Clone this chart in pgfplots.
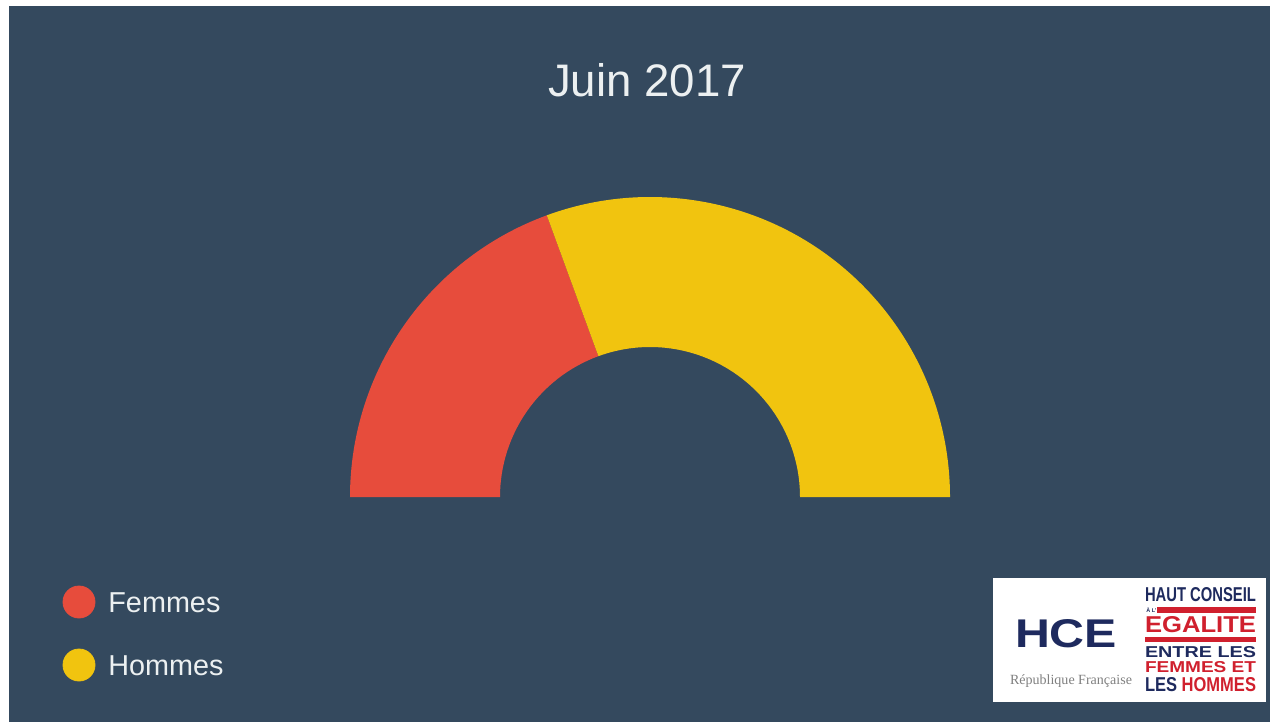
\documentclass[border=0pt]{standalone}
\usepackage{fontspec}
\setmainfont{Liberation Sans}
\newfontfamily\serifl{Liberation Serif}
\usepackage{graphicx}
\usepackage{pgfplots}
\pgfplotsset{compat=1.18}
\definecolor{bg}{HTML}{34495E}
\definecolor{fem}{HTML}{E74C3C}
\definecolor{hom}{HTML}{F1C40F}
\definecolor{txt}{HTML}{ECF0F1}
\definecolor{navy}{HTML}{1E2A5E}
\definecolor{lred}{HTML}{D0202E}
% seats, June 2017
\def\Femmes{224}
\def\Hommes{353}
\pgfmathsetmacro{\ang}{180-180*(\Femmes/(\Femmes+\Hommes))}
\begin{document}
\begin{tikzpicture}
\begin{axis}[width=636pt,height=362pt,scale only axis,
  xmin=0,xmax=1272,ymin=0,ymax=724,hide axis,clip=false]
\fill[white] (axis cs:0,0) rectangle (axis cs:1272,724);
\fill[bg] (axis cs:9,2) rectangle (axis cs:1270,718);
% half donut
\fill[fem] (axis cs:650,227) ++(180:150pt) arc[start angle=180,end angle=\ang,radius=150pt]
  -- ++(\ang+180:75pt) arc[start angle=\ang,end angle=180,radius=75pt] -- cycle;
\fill[hom] (axis cs:650,227) ++(\ang:150pt) arc[start angle=\ang,end angle=0,radius=150pt]
  -- ++(180:75pt) arc[start angle=0,end angle=\ang,radius=75pt] -- cycle;
% title
\node[anchor=base,text=txt,font=\fontsize{22.8pt}{26pt}\selectfont] at (axis cs:647,627) {Juin 2017};
% legend
\addplot[only marks,mark=*,mark size=8pt,color=fem] coordinates {(79,122)};
\addplot[only marks,mark=*,mark size=8pt,color=hom] coordinates {(79,59)};
\node[anchor=base west,inner sep=0pt,text=txt,font=\fontsize{14.4pt}{17pt}\selectfont] at (axis cs:108,112) {Femmes};
\node[anchor=base west,inner sep=0pt,text=txt,font=\fontsize{14.4pt}{17pt}\selectfont] at (axis cs:108,49) {Hommes};
% logo
\fill[white] (axis cs:993,22) rectangle (axis cs:1266,146);
\node[inner sep=0pt,text=navy] at (axis cs:1066,90) {\resizebox{51pt}{14pt}{\bfseries HCE}};
\node[inner sep=0pt,text=gray] at (axis cs:1071,43) {\resizebox{61pt}{!}{\serifl République Française}};
\node[inner sep=0pt,text=navy] at (axis cs:1200.5,129) {\resizebox{55.5pt}{7pt}{\bfseries HAUT CONSEIL}};
\node[inner sep=0pt,text=navy,anchor=west] at (axis cs:1146,114) {\resizebox{5pt}{!}{\bfseries À L'}};
\fill[lred] (axis cs:1157,111) rectangle (axis cs:1256,117);
\node[inner sep=0pt,text=lred] at (axis cs:1200.5,99) {\resizebox{55.5pt}{8pt}{\bfseries EGALITE}};
\fill[lred] (axis cs:1145,82) rectangle (axis cs:1256,87);
\node[inner sep=0pt,text=navy] at (axis cs:1200.5,71.5) {\resizebox{55.5pt}{5.5pt}{\bfseries ENTRE LES}};
\node[inner sep=0pt,text=lred] at (axis cs:1200.5,56.5) {\resizebox{55.5pt}{5.5pt}{\bfseries FEMMES ET}};
\node[inner sep=0pt] at (axis cs:1200.5,39) {\resizebox{55.5pt}{7pt}{\bfseries\textcolor{navy}{LES} \textcolor{lred}{HOMMES}}};
\end{axis}
\end{tikzpicture}
\end{document}
